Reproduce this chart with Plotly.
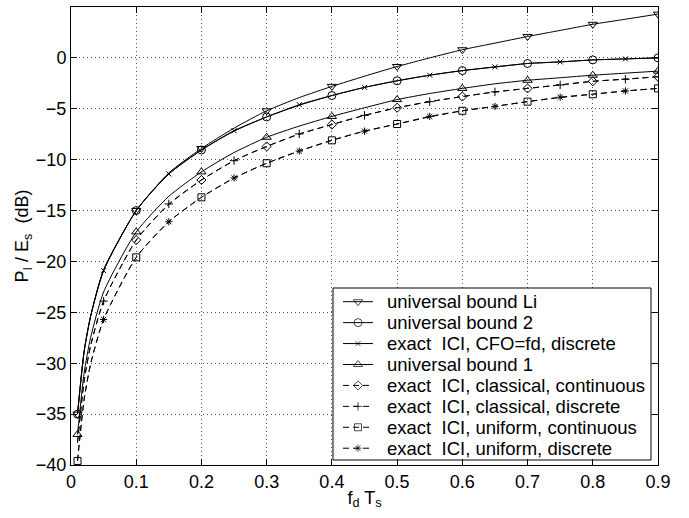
import plotly.graph_objects as go

# Normalised Doppler spread f_d*T_s (common sample grid of all curves)
fd_ts = [0.01, 0.02, 0.03, 0.05, 0.10, 0.15, 0.20, 0.25, 0.30, 0.35, 0.40, 0.45,
         0.50, 0.55, 0.60, 0.65, 0.70, 0.75, 0.80, 0.85, 0.90]

# ICI power relative to symbol energy, dB
bound_li = [-35.0, -28.9, -25.4, -20.8, -15.0, -11.3, -8.9, -6.9, -5.2, -3.9, -2.8, -1.8,
            -0.85, 0.0, 0.8, 1.45, 2.1, 2.7, 3.3, 3.8, 4.3]
bound_2 = [-35.0, -28.9, -25.4, -20.9, -15.0, -11.4, -9.05, -7.2, -5.8, -4.65, -3.7, -2.9,
           -2.25, -1.7, -1.25, -0.9, -0.55, -0.4, -0.2, -0.1, 0.0]
cfo_discrete = [-35.0, -28.9, -25.4, -20.9, -15.0, -11.4, -9.05, -7.15, -5.8, -4.6, -3.7, -2.9,
                -2.25, -1.7, -1.25, -0.88, -0.55, -0.39, -0.2, -0.1, 0.0]
bound_1 = [-37.0, -31.0, -27.5, -23.0, -17.1, -13.6, -11.2, -9.3, -7.8, -6.7, -5.75, -4.9,
           -4.1, -3.5, -3.0, -2.55, -2.2, -1.95, -1.7, -1.5, -1.3]
classical_cont = [-37.8, -31.8, -28.3, -23.9, -17.9, -14.4, -12.0, -10.1, -8.7, -7.5, -6.55, -5.65,
                  -4.9, -4.3, -3.8, -3.35, -3.0, -2.65, -2.3, -2.08, -1.85]
classical_disc = [-37.8, -31.8, -28.3, -23.9, -17.9, -14.35, -12.0, -10.1, -8.7, -7.47, -6.55, -5.65,
                  -4.9, -4.3, -3.8, -3.34, -3.0, -2.66, -2.3, -2.1, -1.85]
uniform_cont = [-39.6, -33.6, -30.1, -25.7, -19.6, -16.1, -13.7, -11.8, -10.35, -9.15, -8.1, -7.2,
                -6.5, -5.8, -5.2, -4.75, -4.3, -3.9, -3.57, -3.25, -3.0]
uniform_disc = [-39.6, -33.6, -30.1, -25.7, -19.6, -16.1, -13.7, -11.8, -10.35, -9.15, -8.1, -7.2,
                -6.5, -5.75, -5.2, -4.77, -4.3, -3.86, -3.57, -3.25, -3.0]

# Marker positions: on the 0.1 grid (with or without 0.01), or at the mid points 0.05, 0.15, ...
on_grid = [0] + list(range(4, len(fd_ts), 2))
on_tenths = list(range(4, len(fd_ts), 2))
mid_points = list(range(3, len(fd_ts) - 1, 2))

x_ticks = [0, 0.1, 0.2, 0.3, 0.4, 0.5, 0.6, 0.7, 0.8, 0.9]
y_ticks = [-40, -35, -30, -25, -20, -15, -10, -5, 0, 5]
X_RANGE = [0, 0.9]
Y_RANGE = [-40, 5]

NB = "\u00a0"
DASH = "6px,4px"
series = [
    ("universal bound Li", bound_li, "triangle-down-open", "solid", on_grid, 8),
    ("universal bound 2", bound_2, "circle-open", "solid", on_grid, 8),
    (f"exact{NB}{NB}ICI, CFO=fd, discrete", cfo_discrete, "x-thin-open", "solid", mid_points, 5),
    ("universal bound 1", bound_1, "triangle-up-open", "solid", on_grid, 8),
    (f"exact{NB}{NB}ICI, classical, continuous", classical_cont, "diamond-open", DASH, on_tenths, 7),
    (f"exact{NB}{NB}ICI, classical, discrete", classical_disc, "cross-thin-open", DASH, mid_points, 6),
    (f"exact{NB}{NB}ICI, uniform, continuous", uniform_cont, "square-open", DASH, on_grid, 7),
    (f"exact{NB}{NB}ICI, uniform, discrete", uniform_disc, "asterisk-open", DASH, mid_points, 6),
]

fig = go.Figure()
for name, vals, symbol, dash, idx, size in series:
    fig.add_trace(go.Scatter(
        x=fd_ts, y=vals, mode="lines",
        line=dict(color="black", width=1, dash=dash, shape="spline", smoothing=0.6),
        showlegend=False, hoverinfo="skip"))
    fig.add_trace(go.Scatter(
        x=[fd_ts[i] for i in idx], y=[vals[i] for i in idx], mode="markers",
        marker=dict(symbol=symbol, size=size, color="black", line=dict(color="black", width=1)),
        showlegend=False, name=name))

# ---- legend box (layout given in pixels, converted to axis units) ----
L, R, T, B = 71, 658, 7, 465            # plot area in pixels


def px_x(px):
    return X_RANGE[0] + (px - L) / (R - L) * (X_RANGE[1] - X_RANGE[0])


def px_y(py):
    return Y_RANGE[1] - (py - T) / (B - T) * (Y_RANGE[1] - Y_RANGE[0])


box_l, box_r, box_t, box_b = 333, 651, 288, 460
row0, row_step = 301.7, 20.93
sample_x0, sample_x1, text_x = 343, 373, 385
legend_font = 18.5

shapes = [dict(type="rect", xref="x", yref="y", layer="between",
               x0=px_x(box_l), x1=px_x(box_r), y0=px_y(box_b), y1=px_y(box_t),
               fillcolor="white", line=dict(color="black", width=1))]
annotations = []
legend_y = []
for k, (name, vals, symbol, dash, idx, size) in enumerate(series):
    yk = px_y(row0 + k * row_step)
    legend_y.append(yk)
    shapes.append(dict(type="line", xref="x", yref="y", layer="between",
                       x0=px_x(sample_x0), x1=px_x(sample_x1), y0=yk, y1=yk,
                       line=dict(color="black", width=1, dash=dash)))
    annotations.append(dict(xref="x", yref="y", x=px_x(text_x), y=yk, text=name,
                            showarrow=False, xanchor="left", yanchor="middle",
                            font=dict(size=legend_font, color="black")))

fig.add_trace(go.Scatter(
    x=[px_x((sample_x0 + sample_x1) / 2)] * len(series), y=legend_y, mode="markers",
    showlegend=False, hoverinfo="skip",
    marker=dict(symbol=[s[2] for s in series], size=[s[5] for s in series],
                color="black", line=dict(color="black", width=1))))

font_family = "Liberation Sans, Arial, Helvetica, sans-serif"
axis_common = dict(
    showline=True, linecolor="black", linewidth=1, mirror="ticks",
    ticks="inside", ticklen=6, tickcolor="black", tickwidth=1,
    showgrid=True, gridcolor="#555555", gridwidth=1, griddash="1px,3px",
    zeroline=False, tickfont=dict(size=18, color="black", family=font_family),
)

fig.update_layout(
    width=689, height=518,
    margin=dict(l=L, r=689 - R, t=T, b=518 - B),
    paper_bgcolor="white", plot_bgcolor="white",
    font=dict(family=font_family, color="black", size=18),
    showlegend=False,
    xaxis=dict(range=X_RANGE, tickvals=x_ticks, ticktext=[f"{v:g}" for v in x_ticks],
               title=dict(text="f<sub>d</sub> T<sub>s</sub>", font=dict(size=18), standoff=0),
               **axis_common),
    yaxis=dict(range=Y_RANGE, tickvals=y_ticks,
               title=dict(text=f"P<sub>I</sub> / E<sub>s</sub>{NB}{NB}(dB)", font=dict(size=18), standoff=2),
               **axis_common),
    shapes=shapes,
    annotations=annotations,
)

fig.write_html("out.html")
